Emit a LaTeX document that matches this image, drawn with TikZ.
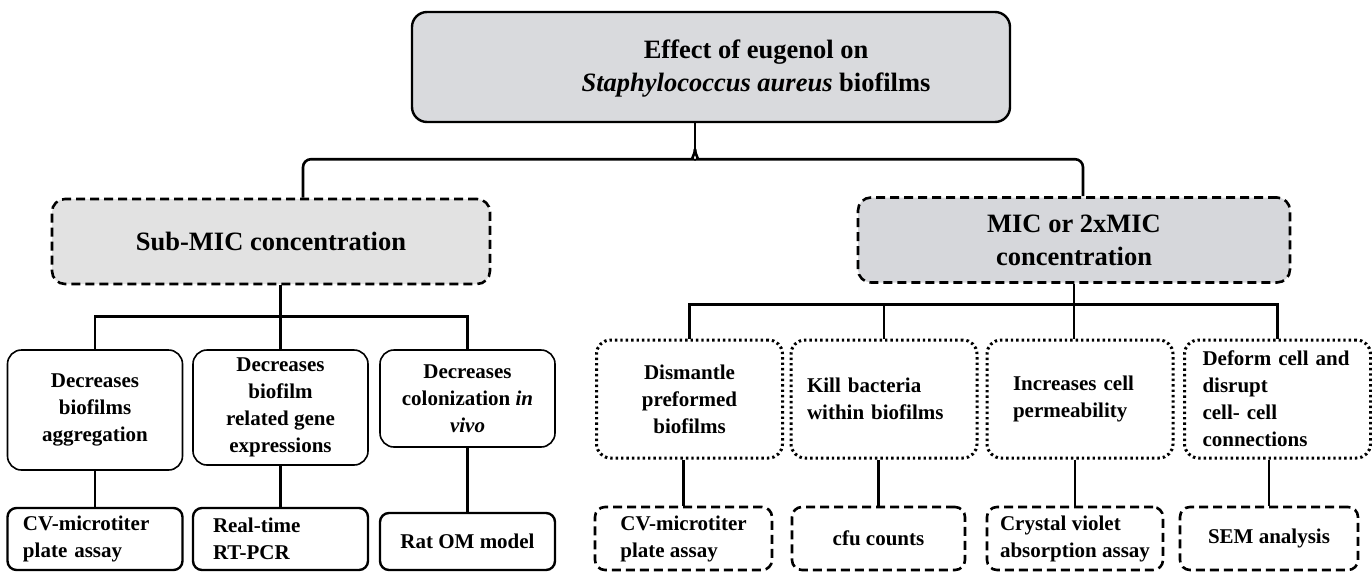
\documentclass[tikz,border=0pt]{standalone}
\usepackage{fontspec}
\setmainfont{Liberation Serif}
\usepackage{tikz}
\definecolor{boxgray}{RGB}{217,218,221}
\definecolor{subgray}{RGB}{226,226,226}
\definecolor{micgray}{RGB}{214,215,219}
\newcommand{\fmid}{\fontsize{26.5}{33}\selectfont\bfseries}
\newcommand{\fleaf}{\fontsize{21}{27}\selectfont\bfseries}
\tikzstyle{conn} = [draw, line width=2.6pt]
\tikzstyle{topbox} = [draw, line width=2.4pt, rounded corners=15pt, fill=boxgray, minimum width=598pt, minimum height=110pt]
\tikzstyle{midbox} = [draw, line width=2.6pt, dash pattern=on 9pt off 5pt, rounded corners=13pt, align=center, font=\fmid, minimum height=85pt]
\tikzstyle{effbox} = [draw, line width=1.6pt, rounded corners=14pt, align=center, font=\fleaf, minimum width=175pt, inner xsep=0pt]
\tikzstyle{effdot} = [draw, line width=3pt, dash pattern=on 2.4pt off 3pt, rounded corners=14pt, align=left, font=\fleaf, minimum width=186pt, minimum height=118pt, inner xsep=0pt]
\tikzstyle{assay} = [draw, line width=2.4pt, rounded corners=9pt, align=left, font=\fleaf, minimum width=175pt, inner xsep=0pt]
\tikzstyle{assaydash} = [draw, line width=2.6pt, dash pattern=on 9pt off 5pt, rounded corners=10pt, align=left, font=\fleaf, minimum height=63pt, inner xsep=0pt]
\def\Sa{\textit{Staphylococcus aureus}}

\begin{document}
\begin{tikzpicture}[x=1pt, y=-1pt]
		\useasboundingbox (0,0) rectangle (1372,573);
		\node[topbox] (top) at (711,67) {};
		\node[align=center, font=\fmid] (title) at (756,69) {Effect of eugenol on\\\Sa{} biofilms};
		\node[midbox, fill=subgray, minimum width=438pt] (sub) at (271,241.5) {Sub-MIC concentration};
		\node[midbox, fill=micgray, minimum width=432pt] (mic) at (1074,240) {MIC or 2xMIC\\concentration};
		\node[effbox, minimum height=120pt] (l1) at (95,410) {Decreases\\biofilms\\aggregation};
		\node[effbox, minimum height=115pt] (l2) at (280.5,407.5) {Decreases\\biofilm\\related gene\\expressions};
		\node[effbox, minimum height=97pt] (l3) at (467.5,398.5) {Decreases\\colonization \textit{in}\\\textit{vivo}};
		\node[assay, minimum height=62pt, text width=144pt] (b1) at (95,539) {CV-microtiter\\plate assay};
		\node[assay, minimum height=62pt, text width=135pt] (b2) at (280.5,539) {Real-time\\RT-PCR};
		\node[assay, minimum height=57pt] (b3) at (467.5,541.5) {Rat OM model};
		\node[effdot, align=center] (r1) at (689.5,399) {Dismantle\\preformed\\biofilms};
		\node[effdot, text width=154pt] (r2) at (884,399) {Kill bacteria\\within biofilms};
		\node[effdot, text width=134pt] (r3) at (1080,399) {Increases cell\\permeability};
		\node[effdot, text width=150pt] (r4) at (1277.5,399) {Deform cell and\\disrupt\\cell- cell\\connections};
		\node[assaydash, minimum width=177pt] (s1) at (683.5,538.5) {CV-microtiter\\plate assay};
		\node[assaydash, minimum width=173pt, align=center] (s2) at (878.5,538.5) {cfu counts};
		\node[assaydash, minimum width=176pt] (s3) at (1075,538.5) {Crystal violet\\absorption assay};
		\node[assaydash, minimum width=178pt, align=center] (s4) at (1269,538.5) {SEM analysis};
		% brace from the top box
		\draw[conn] ([xshift=-16pt]top.south) -- ++(0,26) coordinate (cusp);
		\draw[conn, rounded corners=8pt] (cusp) to[out=-90,in=0] ++(-10,10) -| ([xshift=32pt]sub.north);
		\draw[conn, rounded corners=8pt] (cusp) to[out=-90,in=180] ++(10,10) -| ([xshift=9pt]mic.north);
		% sub-MIC branch
		\draw[conn] (l2.north |- sub.south) -- (l2.north);
		\draw[conn] (l1.north) -- ++(0,-33) -| (l3.north);
		\draw[conn] (l1) -- (b1);
		\draw[conn] (l2) -- (b2);
		\draw[conn] (l3) -- (b3);
		% MIC branch
		\draw[conn] (mic.south) -- (mic.south |- r3.north);
		\draw[conn] (r1.north) -- ++(0,-34) -| (r4.north);
		\draw[conn] (r2.north) -- ++(0,-34);
		\draw[conn] (s1.north |- r1.south) -- (s1.north);
		\draw[conn] (s2.north |- r2.south) -- (s2.north);
		\draw[conn] (s3.north |- r3.south) -- (s3.north);
		\draw[conn] (s4.north |- r4.south) -- (s4.north);
	\end{tikzpicture}
\end{document}
